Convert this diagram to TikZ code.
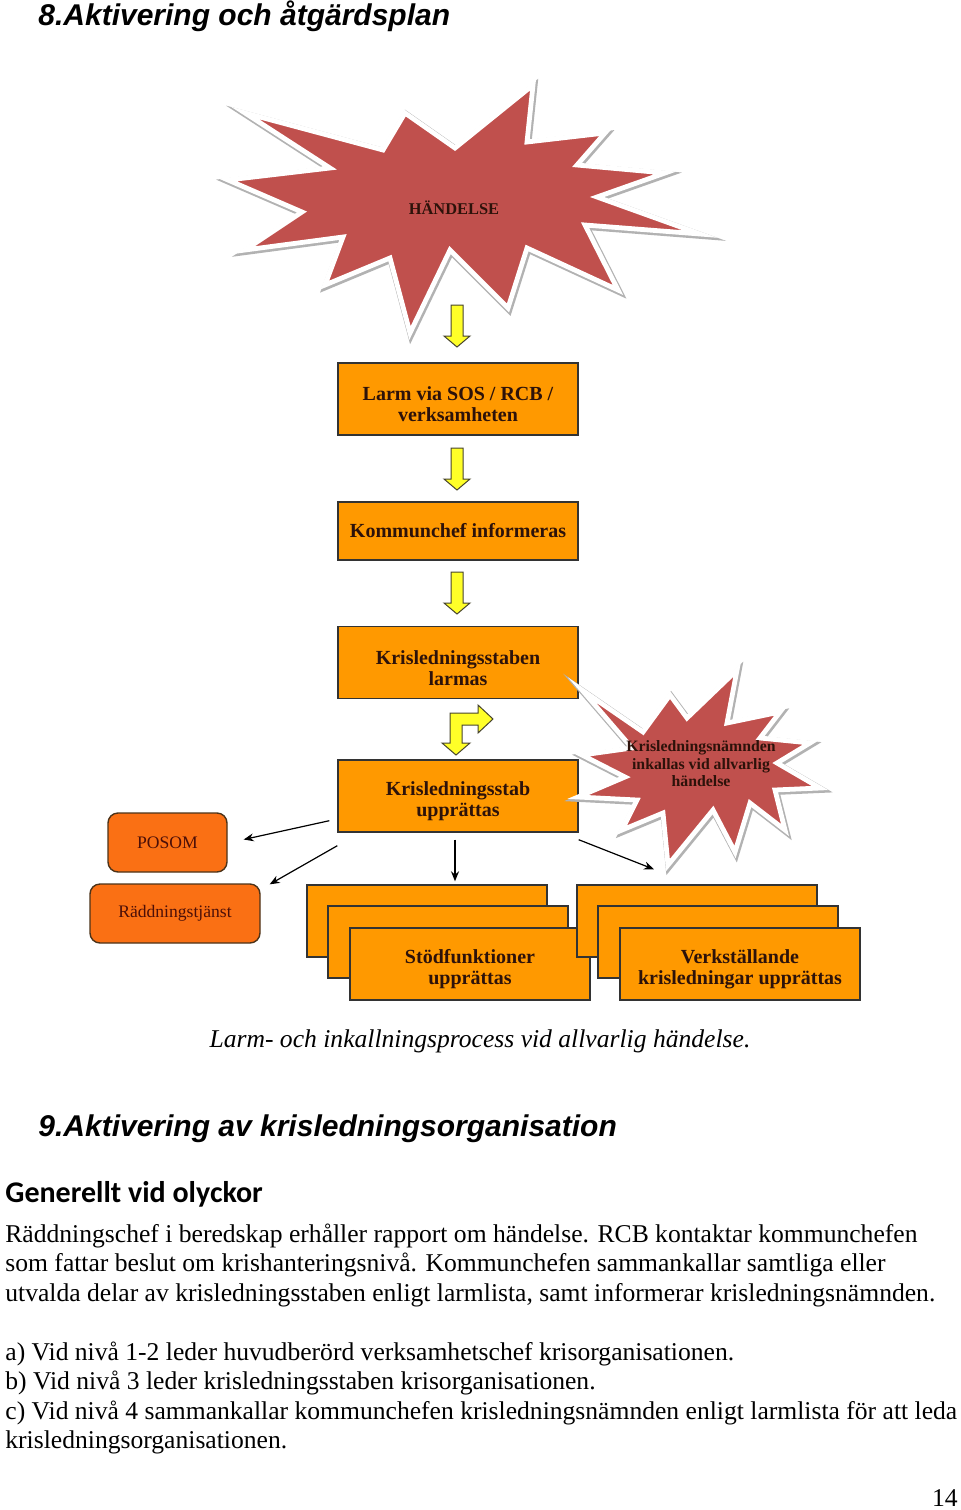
\documentclass[tikz,border=0pt]{standalone}
\usepackage{fontspec}
\setmainfont{Liberation Serif}
\newfontfamily\headfont{Liberation Sans}
\newfontfamily\subheadfont{Carlito}
\usetikzlibrary{arrows.meta, calc}
\definecolor{burstred}{RGB}{192, 80, 77}
\definecolor{boxorange}{RGB}{255, 153, 0}
\definecolor{sideorange}{RGB}{250, 112, 20}
\definecolor{arrowyellow}{RGB}{255, 255, 40}
\definecolor{textbrown}{RGB}{45, 18, 10}
\newcommand{\boxstrut}{\rule{0pt}{12.5pt}}

\begin{document}
\begin{tikzpicture}[x=0.5pt, y=-0.5pt,
  box/.style={draw=black!80, line width=0.7pt, fill=boxorange, minimum width=120pt, minimum height=36pt, inner sep=0pt, align=center, text=textbrown, font=\bfseries\fontsize{10}{10.5}\selectfont},
  sidebox/.style={draw=black!60!brown, line width=0.7pt, fill=sideorange, rounded corners=5pt, minimum height=29.5pt, inner sep=0pt, text=textbrown!85!red, font=\fontsize{8.8}{10}\selectfont},
  bursttext/.style={align=center, inner sep=0pt, text=textbrown, font=\bfseries\fontsize{7.9}{8.75}\selectfont},
  halo/.style={draw=gray!60, line width=3.4pt, line join=miter},
  burst/.style={draw=white, line width=2.4pt, fill=burstred, line join=miter},
  yarrow/.style={draw=black!65!olive, fill=arrowyellow, line width=0.5pt, line join=miter},
  conn/.style={-{Stealth[length=5pt, width=4pt]}, line width=0.6pt, black},
  bodyline/.style={anchor=base west, inner sep=0pt, font=\fontsize{12.8}{14.75}\selectfont}]
 \fill[white] (0,0) rectangle (960,1510);
 \useasboundingbox (0,0) rectangle (960,1510);
 % headings
 \node[anchor=base west, inner sep=0pt, font=\headfont\bfseries\itshape\fontsize{15}{18}\selectfont] (title1) at (38,25) {8.Aktivering och åtgärdsplan};
 % big burst
 \path[halo, shift={(1,1.5)}] (245,113) -- (383,150) -- (405,113) -- (455,148) -- (533,85) -- (527,142) -- (605,133) -- (577,165) -- (665,173) -- (597,197) -- (700,234) -- (585,225) -- (618,290) -- (527,248) -- (508,308) -- (450,250) -- (410,333) -- (390,258) -- (325,285) -- (343,237) -- (245,250) -- (302,212) -- (228,180) -- (330,168) -- cycle;
 \path[burst] (245,113) -- (383,150) -- (405,113) -- (455,148) -- (533,85) -- (527,142) -- (605,133) -- (577,165) -- (665,173) -- (597,197) -- (700,234) -- (585,225) -- (618,290) -- (527,248) -- (508,308) -- (450,250) -- (410,333) -- (390,258) -- (325,285) -- (343,237) -- (245,250) -- (302,212) -- (228,180) -- (330,168) -- cycle;
 \node[bursttext, font=\bfseries\fontsize{8.2}{10}\selectfont] (handelse) at (454,208) {HÄNDELSE};
 % yellow block arrows
 \foreach \ytop in {305, 448, 572}
  \draw[yarrow] (451,\ytop) -- (463,\ytop) -- (463,\ytop+31) -- (470,\ytop+31) -- (457,\ytop+42) -- (444,\ytop+31) -- (451,\ytop+31) -- cycle;
 \draw[yarrow] (450,743) -- (450,713) -- (478,713) -- (478,705) -- (493,719) -- (478,733) -- (478,725) -- (462,725) -- (462,743) -- (470,743) -- (456,755) -- (442,743) -- cycle;
 % main column
 \node[box] (larm) at (458,399) {\boxstrut Larm via SOS / RCB /\\verksamheten};
 \node[box, minimum height=29pt] (kommunchef) at (458,531) {Kommunchef informeras};
 \node[box] (larmas) at (458,662.5) {\boxstrut Krisledningsstaben\\larmas};
 \node[box] (stab) at (458,796) {\boxstrut Krisledningsstab\\upprättas};
 % small burst
 \path[halo, shift={(1,1.5)}] (582,690) -- (643,732) -- (670,695) -- (687,718) -- (737,670) -- (727,723) -- (780,712) -- (760,738) -- (810,743) -- (777,763) -- (820,788) -- (775,790) -- (785,830) -- (750,803) -- (735,852) -- (713,810) -- (668,865) -- (663,813) -- (622,830) -- (637,800) -- (578,797) -- (625,777) -- (582,755) -- (632,748) -- cycle;
 \path[burst] (582,690) -- (643,732) -- (670,695) -- (687,718) -- (737,670) -- (727,723) -- (780,712) -- (760,738) -- (810,743) -- (777,763) -- (820,788) -- (775,790) -- (785,830) -- (750,803) -- (735,852) -- (713,810) -- (668,865) -- (663,813) -- (622,830) -- (637,800) -- (578,797) -- (625,777) -- (582,755) -- (632,748) -- cycle;
 \node[bursttext] (namnden) at (701,764) {Krisledningsnämnden\\inkallas vid allvarlig\\händelse};
 % side boxes
 \node[sidebox, minimum width=59.5pt] (posom) at (167.5,842.5) {POSOM};
 \node[sidebox, minimum width=85pt] (raddning) at (175,913.5) {Räddningstjänst};
 % stacked boxes
 \node[box] (stodA) at (427,921) {};
 \node[box] (stodB) at ($(stodA)+(21,21)$) {};
 \node[box] (stod) at ($(stodB)+(22,22)$) {\boxstrut Stödfunktioner\\upprättas};
 \node[box] (verkA) at (697,921) {};
 \node[box] (verkB) at ($(verkA)+(21,21)$) {};
 \node[box] (verk) at ($(verkB)+(22,22)$) {\boxstrut Verkställande\\krisledningar upprättas};
 % connectors
 \draw[conn] ($(stab.south west)+(-8,-12)$) -- ($(posom.east)+(16,-3)$);
 \draw[conn] ($(stab.south west)+(0,13)$) -- ($(raddning.north east)+(9,1)$);
 \draw[conn] ($(stab.south)+(-3,7)$) -- ($(stodA.north)+(28,-3)$);
 \draw[conn] ($(stab.south east)+(0,7)$) -- ($(verkA.north)+(-43,-15)$);
 % caption
 \node[anchor=base, inner sep=0pt, font=\itshape\fontsize{12.8}{14.75}\selectfont] (caption) at (480,1047) {Larm- och inkallningsprocess vid allvarlig händelse.};
 % text below
 \node[anchor=base west, inner sep=0pt, font=\headfont\bfseries\itshape\fontsize{15}{18}\selectfont] (title2) at (38,1136) {9.Aktivering av krisledningsorganisation};
 \node[anchor=base west, inner sep=0pt, font=\subheadfont\bfseries\fontsize{15}{18}\selectfont] (generellt) at (5,1202) {Generellt vid olyckor};
 \node[bodyline] (l1) at (5,1242) {Räddningschef i beredskap erhåller rapport om händelse. RCB kontaktar kommunchefen};
 \node[bodyline] (l2) at (5,1271) {som fattar beslut om krishanteringsnivå. Kommunchefen sammankallar samtliga eller};
 \node[bodyline] (l3) at (5,1301) {utvalda delar av krisledningsstaben enligt larmlista, samt informerar krisledningsnämnden.};
 \node[bodyline] (la) at (5,1360) {a) Vid nivå 1-2 leder huvudberörd verksamhetschef krisorganisationen.};
 \node[bodyline] (lb) at (5,1389) {b) Vid nivå 3 leder krisledningsstaben krisorganisationen.};
 \node[bodyline] (lc) at (5,1419) {c) Vid nivå 4 sammankallar kommunchefen krisledningsnämnden enligt larmlista för att leda};
 \node[bodyline] (ld) at (5,1448) {krisledningsorganisationen.};
 \node[bodyline, anchor=base east] (page) at (958,1506) {14};
\end{tikzpicture}
\end{document}
